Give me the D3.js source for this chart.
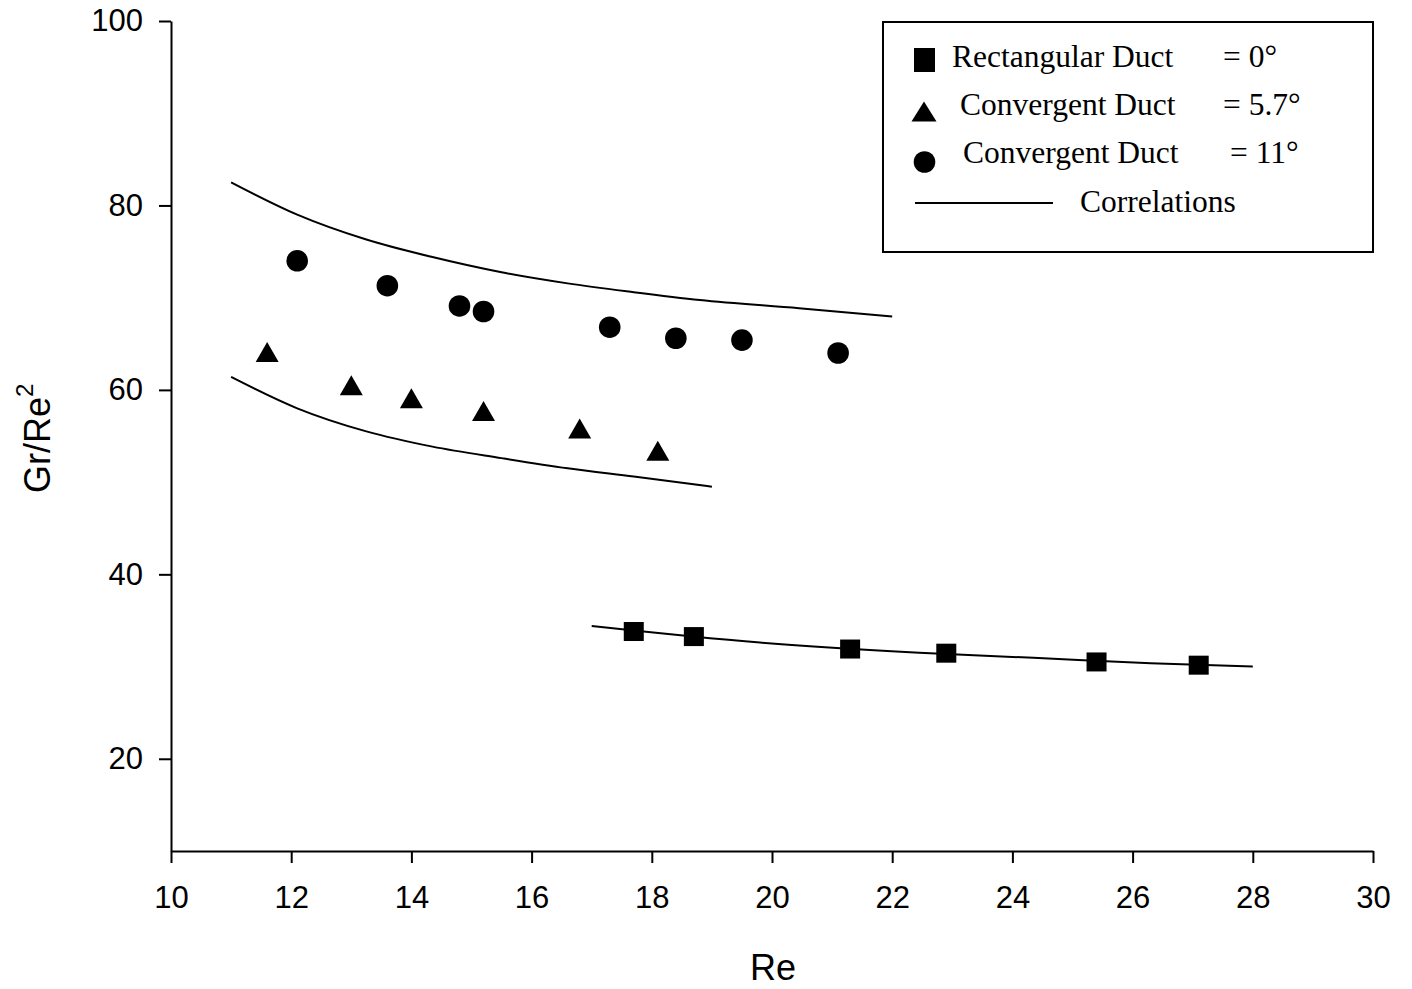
<!DOCTYPE html>
<html>
<head>
<meta charset="utf-8">
<script src="https://cdn.jsdelivr.net/npm/d3@7"></script>
<style>
  html, body { margin: 0; padding: 0; background: #fff; }
  svg { display: block; }
</style>
</head>
<body>
<svg id="chart" width="1412" height="989"></svg>
<script>
// Measured points: Re vs Gr/Re^2 for three duct geometries
const rectRe   = [17.7, 18.7, 21.3, 22.9, 25.4, 27.1];
const rectGr   = [33.8, 33.25, 31.9, 31.45, 30.5, 30.15];

const conv57Re = [11.6, 13.0, 14.0, 15.2, 16.8, 18.1];
const conv57Gr = [64.1, 60.5, 59.1, 57.7, 55.8, 53.4];

const conv11Re = [12.1, 13.6, 14.8, 15.2, 17.3, 18.4, 19.5, 21.1];
const conv11Gr = [74.0, 71.3, 69.1, 68.5, 66.8, 65.6, 65.4, 64.0];

// Correlation curves
const corrRectRe = [17.0, 19.8, 22.45, 24.35, 26.3, 28.0];
const corrRectGr = [34.4, 32.6, 31.5, 30.95, 30.35, 30.0];

const corr57Re = [11.0, 12.1, 13.25, 14.35, 15.5, 16.6, 17.7, 19.0];
const corr57Gr = [61.4, 58.0, 55.5, 53.85, 52.6, 51.5, 50.6, 49.5];

const corr11Re = [11.0, 12.1, 13.25, 14.35, 15.5, 16.6, 17.7, 18.8, 20.45, 22.0];
const corr11Gr = [82.5, 79.0, 76.3, 74.4, 72.75, 71.55, 70.6, 69.75, 68.85, 67.95];

const xTicks = [10, 12, 14, 16, 18, 20, 22, 24, 26, 28, 30];
const yTicks = [20, 40, 60, 80, 100];

const legendLabels = ["Rectangular Duct", "Convergent Duct", "Convergent Duct", "Correlations"];
const legendAngles = ["= 0\u00B0", "= 5.7\u00B0", "= 11\u00B0"];

const zip = (a, b) => a.map((v, i) => [v, b[i]]);

const svg = d3.select("#chart");
const plotLeft = 171, plotRight = 1373, plotTop = 21, plotBottom = 851;

const x = d3.scaleLinear().domain([10, 30]).range([plotLeft, plotRight]);
const y = d3.scaleLinear().domain([10, 100]).range([plotBottom, plotTop]);

const sans = "'Liberation Sans', Arial, sans-serif";
const serif = "'Liberation Serif', 'Times New Roman', serif";

// Axes
const xAxis = svg.append("g")
  .attr("transform", `translate(0,${plotBottom})`)
  .call(d3.axisBottom(x).tickValues(xTicks).tickSize(12).tickSizeOuter(0).tickPadding(23));
const yAxis = svg.append("g")
  .attr("transform", `translate(${plotLeft},0)`)
  .call(d3.axisLeft(y).tickValues(yTicks).tickSize(12).tickSizeOuter(0).tickPadding(16));

[xAxis, yAxis].forEach(g => {
  g.select(".domain").attr("stroke", "#000").attr("stroke-width", 2);
  g.selectAll(".tick line").attr("stroke", "#000").attr("stroke-width", 2);
  g.selectAll(".tick text").attr("fill", "#000")
    .style("font-family", sans).style("font-size", "31px");
});

// Axis titles
svg.append("text")
  .attr("x", 773).attr("y", 980)
  .attr("text-anchor", "middle")
  .style("font-family", sans).style("font-size", "36px")
  .text("Re");

const yTitle = svg.append("text")
  .attr("transform", "translate(50,493) rotate(-90)")
  .attr("text-anchor", "start")
  .style("font-family", sans).style("font-size", "36px");
yTitle.append("tspan").text("Gr/Re");
yTitle.append("tspan").attr("dy", -17).style("font-size", "24px").text("2");

// Correlation lines
const line = d3.line().x(d => x(d[0])).y(d => y(d[1])).curve(d3.curveMonotoneX);
[zip(corr11Re, corr11Gr), zip(corr57Re, corr57Gr), zip(corrRectRe, corrRectGr)].forEach(pts => {
  svg.append("path").datum(pts)
    .attr("d", line)
    .attr("fill", "none")
    .attr("stroke", "#000")
    .attr("stroke-width", 2);
});

// Markers
const triPath = (cx, cy, w, h) =>
  `M${cx},${cy - h / 2}L${cx + w / 2},${cy + h / 2}L${cx - w / 2},${cy + h / 2}Z`;

svg.append("g").selectAll("circle")
  .data(zip(conv11Re, conv11Gr)).join("circle")
  .attr("cx", d => x(d[0])).attr("cy", d => y(d[1]))
  .attr("r", 10.8).attr("fill", "#000");

svg.append("g").selectAll("path")
  .data(zip(conv57Re, conv57Gr)).join("path")
  .attr("d", d => triPath(x(d[0]), y(d[1]), 23, 20))
  .attr("fill", "#000");

svg.append("g").selectAll("rect")
  .data(zip(rectRe, rectGr)).join("rect")
  .attr("x", d => x(d[0]) - 10).attr("y", d => y(d[1]) - 9.5)
  .attr("width", 20).attr("height", 19)
  .attr("fill", "#000");

// Legend
const lg = svg.append("g");
lg.append("rect")
  .attr("x", 883).attr("y", 22).attr("width", 490).attr("height", 230)
  .attr("fill", "#fff").attr("stroke", "#000").attr("stroke-width", 2);

lg.append("rect").attr("x", 914).attr("y", 48).attr("width", 21).attr("height", 24).attr("fill", "#000");
lg.append("path").attr("d", triPath(924, 111.5, 25, 20)).attr("fill", "#000");
lg.append("circle").attr("cx", 924.5).attr("cy", 162).attr("r", 10.8).attr("fill", "#000");
lg.append("line").attr("x1", 915).attr("x2", 1053).attr("y1", 203).attr("y2", 203)
  .attr("stroke", "#000").attr("stroke-width", 2);

const nameX = [952, 960, 963, 1080];
const rowY = [67, 115, 163, 212];
const angleX = [1223, 1223, 1230];

legendLabels.forEach((t, i) => {
  lg.append("text").attr("x", nameX[i]).attr("y", rowY[i])
    .style("font-family", serif).style("font-size", "31.5px").text(t);
});
legendAngles.forEach((t, i) => {
  lg.append("text").attr("x", angleX[i]).attr("y", rowY[i])
    .style("font-family", serif).style("font-size", "31.5px").text(t);
});
</script>
</body>
</html>
